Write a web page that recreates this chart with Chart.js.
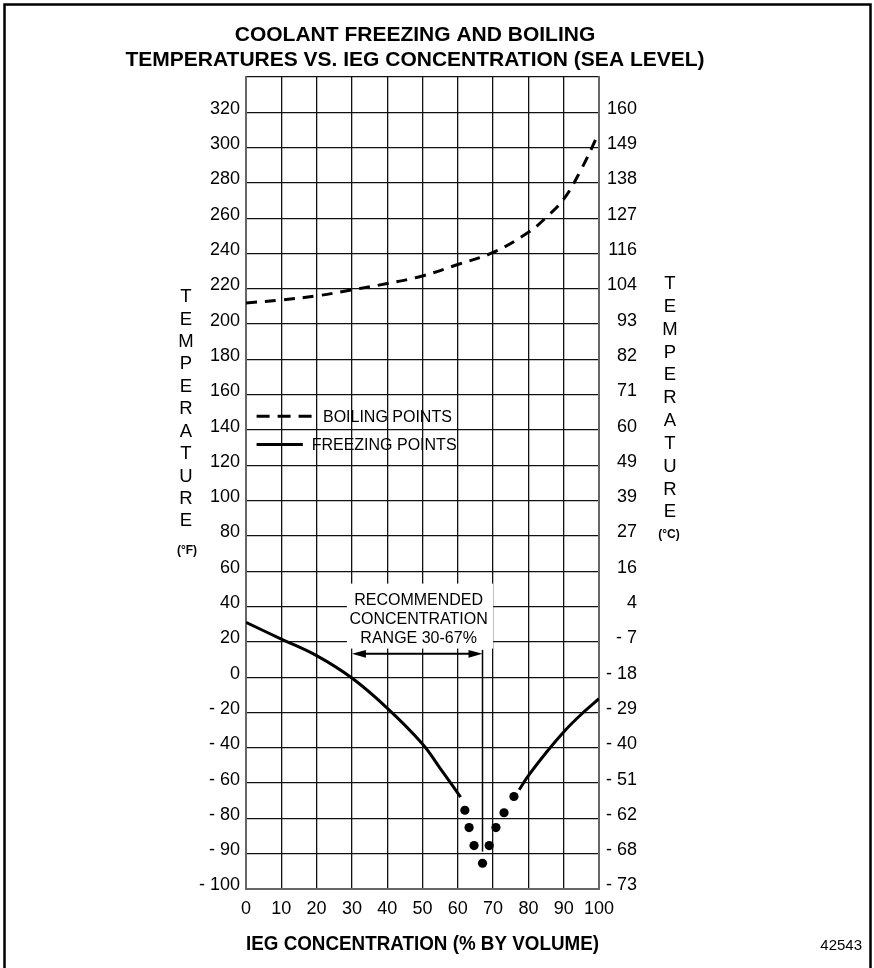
<!DOCTYPE html>
<html>
<head>
<meta charset="utf-8">
<script src="https://cdn.jsdelivr.net/npm/chart.js@4.4.1/dist/chart.umd.min.js"></script>
<style>
  html, body { margin: 0; padding: 0; background: #fff; }
  #wrap { width: 874px; height: 968px; }
</style>
</head>
<body>
<div id="wrap"><canvas id="chart" width="874" height="968"></canvas></div>
<script>
// left axis (°F) and right axis (°C) tick labels, one per grid row, bottom to top
const fTicks = [-100, -90, -80, -60, -40, -20, 0, 20, 40, 60, 80, 100, 120, 140, 160, 180, 200, 220, 240, 260, 280, 300, 320];
const cTicks = [-73, -68, -62, -51, -40, -29, -18, -7, 4, 16, 27, 39, 49, 60, 71, 82, 93, 104, 116, 127, 138, 149, 160];

// boiling points (°F) vs IEG concentration (%)
const boilX = [0, 10, 20, 30, 40, 50, 60, 70, 80, 85, 90, 95, 100];
const boilF = [212, 213.7, 216, 219.4, 223, 227.3, 233.8, 240.6, 252, 260.4, 270.8, 287.8, 308.6];

// freezing points, falling branch and rising branch
const freezeLoX = [0, 10, 20, 30, 40, 50, 55, 60.8];
const freezeLoF = [31, 21.6, 12.2, -0.5, -17.5, -37.8, -51.6, -68];
const freezeHiX = [77.4, 80, 85, 90, 95, 100];
const freezeHiF = [-63.8, -55.8, -42.8, -31, -21, -12.2];

// dotted region around the minimum
const dotX = [62, 63.2, 64.6, 67, 68.9, 70.8, 73.1, 75.9];
const dotF = [-75.4, -82.6, -87.7, -92.7, -87.7, -82.6, -76.8, -67.6];

const recRange = [30, 67];

// the grid rows are evenly spaced but the °F steps are not (-100,-90,-80,-60...),
// so the y axis runs in row units and °F values are mapped onto it
function toRow(f) {
  let i = 0;
  while (i < fTicks.length - 2 && f > fTicks[i + 1]) i++;
  return i + (f - fTicks[i]) / (fTicks[i + 1] - fTicks[i]);
}
const pts = (xs, fs) => xs.map((x, i) => ({ x, y: toRow(fs[i]) }));
const fmt = v => v < 0 ? '- ' + Math.abs(v) : String(v);
const rowTicks = s => { s.ticks = Array.from({ length: fTicks.length + 1 }, (_, i) => ({ value: i })); };

const FONT = "'Liberation Sans', Arial, sans-serif";
Chart.defaults.font.family = FONT;
Chart.defaults.color = '#000';

const decor = {
  id: 'decor',
  beforeDatasetsDraw(chart) {
    const { ctx, scales: { x, y } } = chart;
    ctx.save();

    // white panel behind the recommended range note
    const bl = x.getPixelForValue(28.6), br = x.getPixelForValue(70);
    const bt = y.getPixelForValue(8.65), bb = y.getPixelForValue(6.81);
    ctx.fillStyle = '#fff';
    ctx.fillRect(bl, bt, br - bl, bb - bt);

    ctx.fillStyle = '#000';
    ctx.font = '16px ' + FONT;
    ctx.textAlign = 'center';
    ctx.textBaseline = 'middle';
    const cx = x.getPixelForValue(48.9);
    ctx.fillText('RECOMMENDED', cx, y.getPixelForValue(8.18));
    ctx.fillText('CONCENTRATION', cx, y.getPixelForValue(7.63));
    ctx.fillText('RANGE ' + recRange[0] + '-' + recRange[1] + '%', cx, y.getPixelForValue(7.08));

    // range arrow
    const ay = y.getPixelForValue(6.66);
    const a1 = x.getPixelForValue(recRange[0]), a2 = x.getPixelForValue(recRange[1]);
    ctx.strokeStyle = '#000';
    ctx.lineWidth = 2;
    ctx.beginPath();
    ctx.moveTo(a1 + 10, ay); ctx.lineTo(a2 - 10, ay);
    ctx.stroke();
    ctx.beginPath();
    ctx.moveTo(a1, ay); ctx.lineTo(a1 + 14, ay - 3.8); ctx.lineTo(a1 + 14, ay + 3.8); ctx.closePath();
    ctx.moveTo(a2, ay); ctx.lineTo(a2 - 14, ay - 3.8); ctx.lineTo(a2 - 14, ay + 3.8); ctx.closePath();
    ctx.fill();
    ctx.lineWidth = 1.5;
    ctx.beginPath();
    ctx.moveTo(a2, ay - 4); ctx.lineTo(a2, y.getPixelForValue(1.06));
    ctx.stroke();

    // legend
    ctx.lineWidth = 3;
    const ly1 = y.getPixelForValue(13.39), ly2 = y.getPixelForValue(12.59);
    ctx.setLineDash([13, 8]);
    ctx.beginPath();
    ctx.moveTo(x.getPixelForValue(3), ly1); ctx.lineTo(x.getPixelForValue(18.6), ly1);
    ctx.stroke();
    ctx.setLineDash([]);
    ctx.beginPath();
    ctx.moveTo(x.getPixelForValue(3), ly2); ctx.lineTo(x.getPixelForValue(16.1), ly2);
    ctx.stroke();
    ctx.textAlign = 'left';
    ctx.fillText('BOILING POINTS', x.getPixelForValue(21.8), ly1 + 1);
    ctx.fillText('FREEZING POINTS', x.getPixelForValue(18.6), ly2 + 1.5);
    ctx.restore();
  },
  afterDraw(chart) {
    const { ctx } = chart;
    ctx.save();
    ctx.fillStyle = '#000';
    ctx.textAlign = 'center';
    ctx.textBaseline = 'middle';

    ctx.font = 'bold 21px ' + FONT;
    ctx.fillText('COOLANT FREEZING AND BOILING', 415, 35);
    ctx.fillText('TEMPERATURES VS. IEG CONCENTRATION (SEA LEVEL)', 415, 60);

    // stacked axis titles
    ctx.font = '18.5px ' + FONT;
    'TEMPERATURE'.split('').forEach((ch, i) => {
      ctx.fillText(ch, 186, 297 + i * 22.43);
      ctx.fillText(ch, 670, 284 + i * 22.84);
    });
    ctx.font = 'bold 12px ' + FONT;
    ctx.fillText('(°F)', 187, 551);
    ctx.fillText('(°C)', 669, 535);

    ctx.font = '15px ' + FONT;
    ctx.textAlign = 'right';
    ctx.fillText('42543', 862, 946);

    // frame
    ctx.strokeStyle = '#000';
    ctx.lineWidth = 2.5;
    ctx.beginPath();
    ctx.moveTo(4.5, 968); ctx.lineTo(4.5, 4.5); ctx.lineTo(870.5, 4.5); ctx.lineTo(870.5, 968);
    ctx.stroke();
    ctx.restore();
  }
};

const gridStyle = { color: '#111', lineWidth: 1.3, drawTicks: false };
const borderStyle = { color: '#666', width: 2 };

new Chart(document.getElementById('chart'), {
  type: 'scatter',
  data: {
    datasets: [
      {
        label: 'BOILING POINTS',
        data: pts(boilX, boilF),
        showLine: true,
        borderColor: '#000',
        borderWidth: 3,
        borderDash: [11, 8],
        pointRadius: 0,
        tension: 0.4
      },
      {
        label: 'FREEZING POINTS',
        data: pts(freezeLoX, freezeLoF),
        showLine: true,
        borderColor: '#000',
        borderWidth: 3,
        pointRadius: 0,
        tension: 0.4
      },
      {
        label: 'FREEZING POINTS',
        data: pts(freezeHiX, freezeHiF),
        showLine: true,
        borderColor: '#000',
        borderWidth: 3,
        pointRadius: 0,
        tension: 0.4
      },
      {
        label: 'MINIMUM',
        data: pts(dotX, dotF),
        showLine: false,
        pointRadius: 4.6,
        pointBorderWidth: 0,
        backgroundColor: '#000',
        borderColor: '#000'
      }
    ]
  },
  options: {
    responsive: false,
    animation: false,
    layout: { padding: { left: 0, right: 237, top: 77, bottom: 0 } },
    plugins: { legend: { display: false }, tooltip: { enabled: false } },
    scales: {
      x: {
        type: 'linear',
        min: 0,
        max: 100,
        afterFit: s => { s.height = 79; },
        ticks: { stepSize: 10, autoSkip: false, maxRotation: 0, padding: 9, font: { size: 18 } },
        grid: gridStyle,
        border: borderStyle,
        title: {
          display: true,
          text: 'IEG CONCENTRATION (% BY VOLUME)',
          font: { size: 19.5, weight: 'bold' },
          padding: { top: 0, bottom: 12 }
        }
      },
      y: {
        type: 'linear',
        position: 'left',
        min: 0,
        max: fTicks.length,
        afterBuildTicks: rowTicks,
        afterFit: s => { s.width = 246; },
        ticks: {
          autoSkip: false,
          padding: 6,
          labelOffset: -3.5,
          font: { size: 18 },
          callback: v => fTicks[v] === undefined ? '' : fmt(fTicks[v])
        },
        grid: gridStyle,
        border: borderStyle
      },
      y2: {
        type: 'linear',
        position: 'right',
        min: 0,
        max: cTicks.length,
        afterBuildTicks: rowTicks,
        afterFit: s => { s.width = 38; },
        ticks: {
          autoSkip: false,
          padding: 7,
          labelOffset: -3.5,
          crossAlign: 'far',
          font: { size: 18 },
          callback: v => cTicks[v] === undefined ? '' : fmt(cTicks[v])
        },
        grid: { drawOnChartArea: false, drawTicks: false },
        border: borderStyle
      }
    }
  },
  plugins: [decor]
});
</script>
</body>
</html>
